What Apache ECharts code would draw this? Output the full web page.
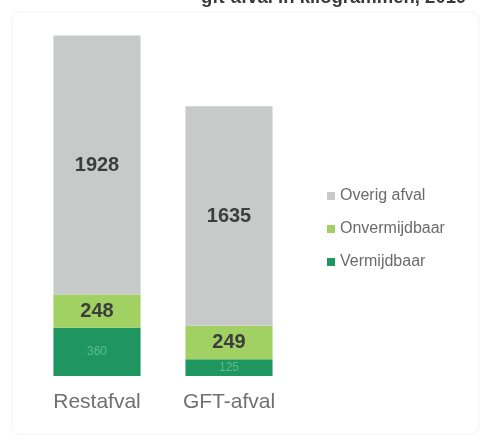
<!DOCTYPE html>
<html>
<head>
<meta charset="utf-8">
<script src="https://cdn.jsdelivr.net/npm/echarts@6/dist/echarts.min.js"></script>
<style>
  html, body { margin: 0; padding: 0; background: #fff; }
  #chart { width: 489px; height: 445px; }
</style>
</head>
<body>
<div id="chart"></div>
<script>
// categories and values
const categories = ['Restafval', 'GFT-afval'];
const vermijdbaar = [360, 125];
const onvermijdbaar = [248, 249];
const overig = [1928, 1635];

const myChart = echarts.init(document.getElementById('chart'));

const valueLabel = {
  show: true,
  position: 'inside',
  color: '#3d3d3d',
  fontSize: 20,
  fontWeight: 'bold',
  fontFamily: 'Liberation Sans, Arial, sans-serif'
};

const option = {
  backgroundColor: '#fff',
  animation: false,
  title: {
    text: 'gft-afval in kilogrammen, 2019',
    left: 196,
    top: -17,
    textStyle: {
      fontSize: 18.5,
      fontWeight: 'bold',
      color: '#3a3a3a',
      fontFamily: 'Liberation Sans, Arial, sans-serif'
    }
  },
  graphic: [{
    type: 'rect',
    shape: { x: 12, y: 12, width: 467, height: 422, r: 8 },
    style: { fill: 'none', stroke: '#f3f3f3', lineWidth: 1 },
    silent: true
  }],
  legend: {
    orient: 'vertical',
    left: 322,
    top: 183,
    itemWidth: 8,
    itemHeight: 8,
    itemGap: 17,
    icon: 'rect',
    data: ['Overig afval', 'Onvermijdbaar', 'Vermijdbaar'],
    textStyle: {
      fontSize: 16,
      color: '#6b6b6b',
      fontFamily: 'Liberation Sans, Arial, sans-serif'
    }
  },
  grid: {
    left: 31,
    width: 264,
    top: 27,
    bottom: 69
  },
  xAxis: {
    type: 'category',
    data: categories,
    axisLine: { show: false },
    axisTick: { show: false },
    axisLabel: {
      margin: 16,
      fontSize: 21,
      color: '#707070',
      fontFamily: 'Liberation Sans, Arial, sans-serif'
    }
  },
  yAxis: {
    type: 'value',
    min: 0,
    max: 2600,
    show: false,
    splitLine: { show: false }
  },
  series: [
    {
      name: 'Vermijdbaar',
      type: 'bar',
      stack: 'afval',
      barWidth: '66%',
      data: vermijdbaar,
      itemStyle: { color: '#1f9660' },
      label: Object.assign({}, valueLabel, { color: '#5cbb8c', fontSize: 12, fontWeight: 'normal' })
    },
    {
      name: 'Onvermijdbaar',
      type: 'bar',
      stack: 'afval',
      data: onvermijdbaar,
      itemStyle: { color: '#a0d162' },
      label: valueLabel
    },
    {
      name: 'Overig afval',
      type: 'bar',
      stack: 'afval',
      data: overig,
      itemStyle: { color: '#c8caca' },
      label: valueLabel
    }
  ]
};

myChart.setOption(option);
window.addEventListener('resize', function() {
  myChart.resize();
});
</script>
</body>
</html>
